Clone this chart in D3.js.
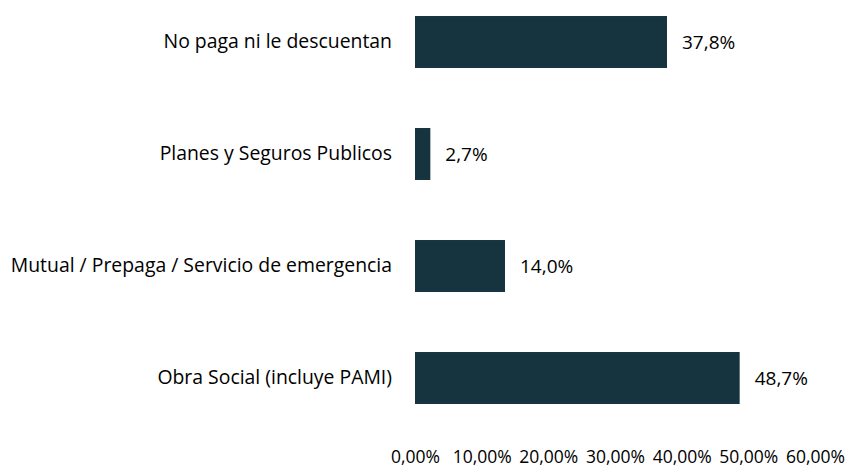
<!DOCTYPE html>
<html><head><meta charset="utf-8">
<script src="https://cdn.jsdelivr.net/npm/d3@7"></script>
<style>body{margin:0;background:#fff}svg{display:block}text{font-family:"Open Sans",sans-serif;fill:#000}</style>
</head><body>
<svg id="c" width="849" height="468"></svg>
<script>
const categories = ["No paga ni le descuentan","Planes y Seguros Publicos","Mutual / Prepaga / Servicio de emergencia","Obra Social (incluye PAMI)"];
const values = [37.8, 2.3, 13.5, 48.7];
const valueLabels = ["37,8%","2,7%","14,0%","48,7%"];
const tickValues = [0,10,20,30,40,50,60];
const tickLabels = ["0,00%","10,00%","20,00%","30,00%","40,00%","50,00%","60,00%"];

const FONT = '"Open Sans",sans-serif';
const svg = d3.select("#c");
const x = d3.scaleLinear().domain([0,60]).range([415,815]);
const y = d3.scaleBand().domain(categories).range([-14,434]).paddingInner(0.536).paddingOuter(0.268);
const data = categories.map((c,i)=>({c, v: values[i], l: valueLabels[i]}));

svg.selectAll("rect.bar").data(data).join("rect").attr("class","bar")
  .attr("x", x(0)).attr("y", d=>y(d.c))
  .attr("width", d=>x(d.v)-x(0)).attr("height", y.bandwidth())
  .attr("fill","#15343f");

svg.selectAll("text.val").data(data).join("text").attr("class","val")
  .attr("x", d=>x(d.v)+15).attr("y", d=>y(d.c)+y.bandwidth()/2)
  .attr("dy","0.35em").attr("font-size",19).text(d=>d.l);

const yAxis = d3.axisLeft(y).tickSize(0).tickPadding(0);
const gy = svg.append("g").attr("transform","translate(392,0)").call(yAxis);
gy.select(".domain").remove();
gy.selectAll("text").attr("font-size",19.4).style("font-family",FONT).attr("fill","#000");

const xAxis = d3.axisBottom(x).tickValues(tickValues).tickFormat((d,i)=>tickLabels[i]).tickSize(0).tickPadding(0);
const gx = svg.append("g").attr("transform","translate(0,451)").call(xAxis);
gx.select(".domain").remove();
gx.selectAll("text").attr("font-size",17.5).style("font-family",FONT).attr("fill","#000");
</script>
</body></html>
